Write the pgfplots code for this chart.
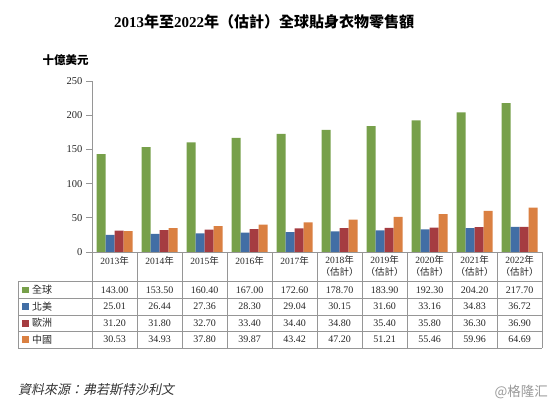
\documentclass[border=0pt]{standalone}
\usepackage{pgfplots}
\pgfplotsset{compat=1.18}
\usepackage{pgfplotstable}
\usepackage{fontspec}
\setmainfont{Liberation Serif}
\newfontfamily\cjk{Noto Sans CJK TC}
\newfontfamily\cjksl[FakeSlant=0.2]{Noto Sans CJK TC}
\newfontfamily\cjksc{Noto Sans CJK SC}
\definecolor{cg}{RGB}{119,160,74}
\definecolor{cn}{RGB}{66,110,165}
\definecolor{ce}{RGB}{165,60,65}
\definecolor{cc}{RGB}{218,128,66}
\definecolor{grid}{RGB}{150,150,150}

\pgfplotstableread{
x g n e c
0 143.00 25.01 31.20 30.53
1 153.50 26.44 31.80 34.93
2 160.40 27.36 32.70 37.80
3 167.00 28.30 33.40 39.87
4 172.60 29.04 34.40 43.42
5 178.70 30.15 34.80 47.20
6 183.90 31.60 35.40 51.21
7 192.30 33.16 35.80 55.46
8 204.20 34.83 36.30 59.96
9 217.70 36.72 36.90 64.69
}\data

\begin{document}
\begin{tikzpicture}[x=1pt,y=1pt]
\path[use as bounding box] (0,0) rectangle (554,406);
% title
\node at (264,384) {\fontsize{15}{18}\selectfont\bfseries 2013{\cjk\bfseries 年至}2022{\cjk\bfseries 年（估計）全球貼身衣物零售額}};
\node at (65.5,346) {\fontsize{11.5}{14}\selectfont\cjk\bfseries 十億美元};
\begin{axis}[
  at={(92pt,154pt)}, anchor=south west,
  scale only axis, width=450pt, height=171pt,
  xmin=-0.5, xmax=9.5, ymin=0, ymax=250,
  enlargelimits=false,
  ybar=0pt, bar width=9pt,
  axis x line=bottom, axis y line=left,
  axis line style={-, grid, line width=0.6pt},
  xtick=\empty,
  ytick={0,50,...,250},
  tick align=outside,
  major tick length=6pt,
  ytick style={grid, line width=0.6pt},
  /pgf/number format/assume math mode=true,
  yticklabel style={font=\fontsize{10.5}{12}\selectfont, text=black!85},
  clip=false,
]
\addplot[fill=cg, draw=none] table[x=x,y=g]{\data};
\addplot[fill=cn, draw=none] table[x=x,y=n]{\data};
\addplot[fill=ce, draw=none] table[x=x,y=e]{\data};
\addplot[fill=cc, draw=none] table[x=x,y=c]{\data};
\end{axis}
% table grid
\begin{scope}[draw=grid, line width=0.6pt]
\foreach \yy in {124.3,107.7,91.1,74.6,58} {\draw (18,\yy) -- (542,\yy);}
\draw (18,124.3) -- (18,58);
\foreach \k in {0,...,10} {\draw ({92+45*\k},154) -- ({92+45*\k},58);}
\end{scope}
% header years
\foreach \i/\yr in {0/2013,1/2014,2/2015,3/2016,4/2017} {
  \node[font=\fontsize{9.5}{12}\selectfont, text=black!85] at ({92+45*\i+22.5},145.5) {\yr{\cjk 年}};
}
\foreach \i/\yr in {5/2018,6/2019,7/2020,8/2021,9/2022} {
  \node[font=\fontsize{9.5}{12}\selectfont, text=black!85, align=center] at ({92+45*\i+22.5},140) {\yr{\cjk 年}\\{\cjk （估計）}};
}
% legend column
\foreach \col/\yy/\lab in {cg/116/全球,cn/99.4/北美,ce/82.85/歐洲,cc/66.3/中國} {
  \fill[\col] (21.7,\yy-3.4) rectangle (28.5,\yy+3.4);
  \node[anchor=west, font=\fontsize{10}{12}\selectfont\cjk, text=black!85, inner sep=0pt] at (32,\yy) {\lab};
}
% values
\foreach \col/\yy in {g/116,n/99.4,e/82.85,c/66.3} {
  \foreach \i in {0,...,9} {
    \pgfplotstablegetelem{\i}{\col}\of\data
    \node[font=\fontsize{10}{12}\selectfont, text=black!85] at ({92+45*\i+22.5},\yy) {\pgfplotsretval};
  }
}
% source
\node[anchor=west, font=\fontsize{13}{15}\selectfont\cjksl, text=black!80, inner sep=0pt] at (18,16) {資料來源：弗若斯特沙利文};
\node[anchor=east, font=\fontsize{13.5}{15}\selectfont\cjksc, text=black!40, inner sep=0pt] at (548,14) {@格隆汇};
\end{tikzpicture}
\end{document}
